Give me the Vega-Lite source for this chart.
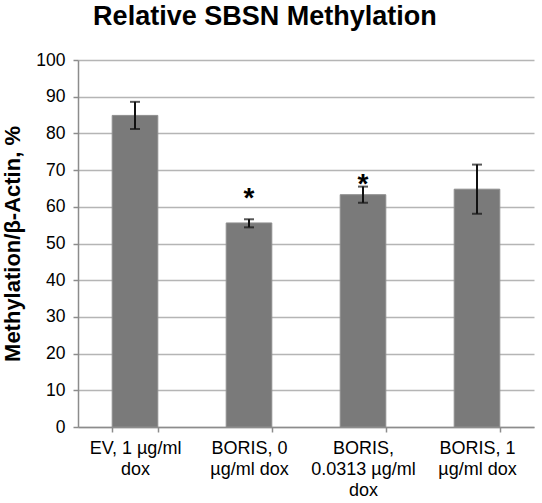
{
  "$schema": "https://vega.github.io/schema/vega-lite/v6.json",
  "width": 456,
  "height": 367,
  "autosize": {"type": "none"},
  "padding": {"left": 78, "top": 60, "right": 8, "bottom": 76},
  "background": "white",
  "config": {
    "font": "Liberation Sans",
    "view": {"stroke": null},
    "axisY": {"grid": true, "titleFontSize": 22, "titleFontWeight": "bold", "titleColor": "#000000", "titlePadding": 11, "labelFontSize": 17.5, "labelColor": "#000000", "labelPadding": 8, "domainColor": "#8c8c8c", "domainWidth": 1.5, "tickColor": "#8c8c8c", "tickWidth": 1.5, "tickSize": 5, "gridColor": "#b5b5b5", "gridWidth": 1.5}
  },
  "title": {"text": "Relative SBSN Methylation", "fontSize": 27, "fontWeight": "bold", "color": "#000000", "frame": "bounds", "anchor": "middle", "offset": 20, "dx": -3},
  "data": {"values": [
    {"group": "EV, 1 µg/ml|dox", "value": 84.9, "lo": 81.2, "hi": 88.6, "star": null},
    {"group": "BORIS, 0|µg/ml dox", "value": 55.6, "lo": 54.4, "hi": 56.6, "star": 63.8},
    {"group": "BORIS,|0.0313 µg/ml|dox", "value": 63.3, "lo": 61.1, "hi": 65.5, "star": 67.6},
    {"group": "BORIS, 1|µg/ml dox", "value": 64.8, "lo": 58.1, "hi": 71.5, "star": null}
  ]},
  "encoding": {
    "x": {"field": "group", "type": "nominal", "sort": null,
      "scale": {"paddingInner": 0.6, "paddingOuter": 0.3},
      "axis": {"title": null, "labelAngle": 0, "labelExpr": "isValid(datum.value) ? split(datum.value, '|') : ''", "labelFontSize": 18, "labelColor": "#000000", "labelLineHeight": 21, "labelPadding": 7, "domainColor": "#8c8c8c", "domainWidth": 1.5, "tickColor": "#8c8c8c", "tickWidth": 1.5, "tickSize": 5, "tickBand": "extent", "grid": false}}
  },
  "layer": [
    {"mark": {"type": "bar", "color": "#7a7a7a", "stroke": "#8e8e8e", "strokeWidth": 1},
     "encoding": {"y": {"field": "value", "type": "quantitative",
       "scale": {"domain": [0, 100], "nice": false},
       "axis": {"title": "Methylation/β-Actin, %", "values": [0,10,20,30,40,50,60,70,80,90,100]}}}},
    {"mark": {"type": "rule", "color": "#111111", "strokeWidth": 2},
     "encoding": {"y": {"field": "lo", "type": "quantitative", "axis": {"title": "Methylation/β-Actin, %", "values": [0,10,20,30,40,50,60,70,80,90,100]}}, "y2": {"field": "hi"}}},
    {"mark": {"type": "tick", "color": "#111111", "thickness": 2, "size": 10},
     "encoding": {"y": {"field": "lo", "type": "quantitative", "axis": {"title": "Methylation/β-Actin, %", "values": [0,10,20,30,40,50,60,70,80,90,100]}}}},
    {"mark": {"type": "tick", "color": "#111111", "thickness": 2, "size": 10},
     "encoding": {"y": {"field": "hi", "type": "quantitative", "axis": {"title": "Methylation/β-Actin, %", "values": [0,10,20,30,40,50,60,70,80,90,100]}}}},
    {"transform": [{"filter": "datum.star != null"}],
     "mark": {"type": "text", "text": "*", "fontSize": 28, "fontWeight": "bold", "color": "#000000", "baseline": "middle", "dy": 6},
     "encoding": {"y": {"field": "star", "type": "quantitative", "axis": {"title": "Methylation/β-Actin, %", "values": [0,10,20,30,40,50,60,70,80,90,100]}}}}
  ]
}
